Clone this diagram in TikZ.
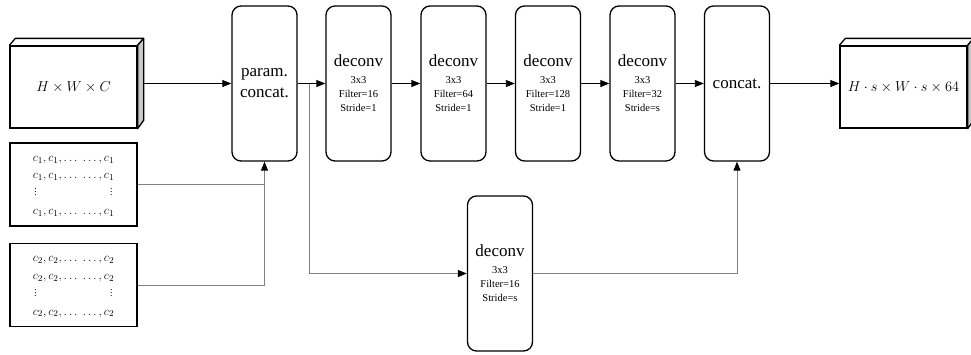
\documentclass[tikz,border=0pt]{standalone}
\usepackage{fontspec}
\setmainfont{Liberation Serif}
\usetikzlibrary{calc,arrows.meta}

\newcommand{\klein}{\fontsize{10.5}{14}\selectfont}
\newcommand{\pkte}{\raisebox{1.5pt}{\scalebox{0.75}{$\vdots$}}}
\newcommand{\cfeld}[1]{$\begin{array}{@{}l@{}r@{}}
c_{#1},c_{#1},\dots\;\dots,\, & c_{#1}\\
c_{#1},c_{#1},\dots\;\dots,\, & c_{#1}\\
\hspace{1.5pt}\pkte & \pkte\hspace{1.5pt}\\
c_{#1},c_{#1},\dots\;\dots,\, & c_{#1}
\end{array}$}

\begin{document}
\begin{tikzpicture}[x=1pt,y=-1pt,
  block/.style={draw,line width=1.3pt,rounded corners=9pt,minimum width=65pt,minimum height=155pt,inner sep=0pt,align=center,font=\rmfamily\fontsize{17}{14}\selectfont},
  tensor/.style={draw,line width=1.3pt,minimum width=127pt,minimum height=82pt,inner sep=0pt,font=\fontsize{15}{18}\selectfont},
  feld/.style={draw,line width=1.3pt,minimum width=127pt,minimum height=83pt,inner sep=0pt,font=\fontsize{13}{17.5}\selectfont},
  pfeil/.style={-{Triangle[length=9pt,width=7pt]},line width=0.8pt},
  zweig/.style={-{Triangle[length=9pt,width=7pt,color=black]},line width=1pt,draw=black!50},
  zweiglinie/.style={line width=1pt,draw=black!50}]

\useasboundingbox (0,0) rectangle (971,354);

%EINGANG (links oben)
\node[tensor] (ein) at (73.5,87) {$H\times W\times C$};
\draw[line width=1.3pt,line join=round] (ein.north west) -- ++(6,-7) -- ($(ein.north east)+(6,-7)$) -- (ein.north east);
\draw[line width=1.3pt,line join=round,fill=black!22] (ein.north east) -- ++(6,-7) -- ++(0,82) -- (ein.south east) -- cycle;
\coordinate (einA) at ($(ein.east)+(6,-3.5)$);

%PARAMETER c1 UND c2
\node[feld] (c1) at (73.5,184.5) {\cfeld{1}};
\node[feld] (c2) at (73.5,285) {\cfeld{2}};



%OBERE ZEILE (von links)
\node[block] (param) at (264.5,83.5) {param.\\[7pt]concat.};
\node[block] (d1) at (358.5,83.5) {deconv\\[3pt]{\klein 3x3}\\{\klein Filter=16}\\{\klein Stride=1}};
\node[block] (d2) at (453.5,83.5) {deconv\\[3pt]{\klein 3x3}\\{\klein Filter=64}\\{\klein Stride=1}};
\node[block] (d3) at (548,83.5) {deconv\\[3pt]{\klein 3x3}\\{\klein Filter=128}\\{\klein Stride=1}};
\node[block] (d4) at (642.5,83.5) {deconv\\[3pt]{\klein 3x3}\\{\klein Filter=32}\\{\klein Stride=s}};
\node[block] (concat) at (737,83.5) {concat.};

%UNTERE ZEILE
\node[block] (unten) at (500,273.5) {deconv\\[3pt]{\klein 3x3}\\{\klein Filter=16}\\{\klein Stride=s}};



%AUSGANG (rechts)
\node[tensor] (aus) at (903.5,87) {$H\cdot s\times W\cdot s\times 64$};
\draw[line width=1.3pt,line join=round] (aus.north west) -- ++(6,-7) -- ($(aus.north east)+(6,-7)$) -- (aus.north east);
\draw[line width=1.3pt,line join=round,fill=black!22] (aus.north east) -- ++(6,-7) -- ++(0,82) -- (aus.south east) -- cycle;



%VERBINDUNGEN
\draw[pfeil] (einA) -- (param.west);
\draw[pfeil] (param) -- (d1);
\draw[pfeil] (d1) -- (d2);
\draw[pfeil] (d2) -- (d3);
\draw[pfeil] (d3) -- (d4);
\draw[pfeil] (d4) -- (concat);
\draw[pfeil] (concat.east) -- (concat.east -| aus.west);

\coordinate (ast) at ($(param.east)!0.41!(d1.west)$);
\draw[zweig] (ast) |- (unten.west);
\draw[zweig] (unten.east) -| (concat.south);
\draw[zweiglinie] (c2.east) -| (param.south);
\draw[zweig] (c1.east) -| (param.south);

\end{tikzpicture}
\end{document}
